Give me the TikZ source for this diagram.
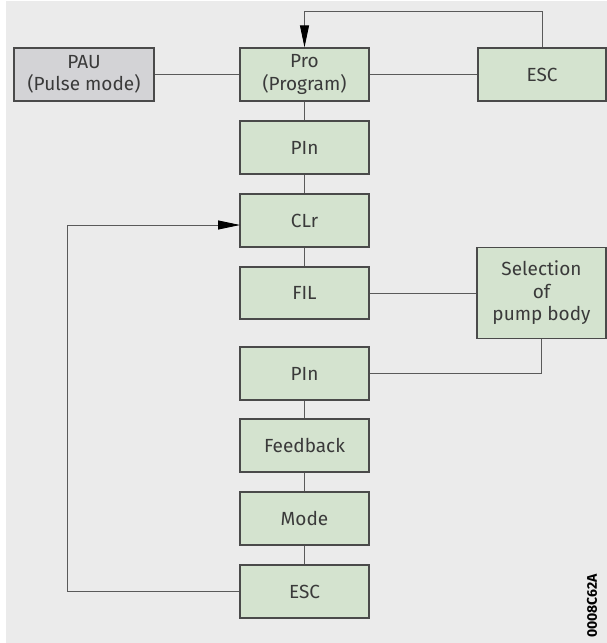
\documentclass[tikz,border=0pt]{standalone}
\usepackage{fontspec}
\setmainfont{Fira Sans}
\usetikzlibrary{arrows.meta}
\definecolor{bgc}{HTML}{EBEBEB}
\definecolor{boxg}{HTML}{D4E3CF}
\definecolor{boxgr}{HTML}{D3D3D6}
\definecolor{edgec}{HTML}{4A4A4A}
\definecolor{linec}{HTML}{5A5A5A}
\definecolor{txtc}{HTML}{3A3A3A}
\tikzset{
  gbox/.style={draw=edgec, line width=1.3pt, fill=boxg, minimum width=129pt, minimum height=53pt, inner sep=0pt, align=center, text=txtc, font=\fontsize{19}{22.5}\selectfont},
  graybox/.style={gbox, fill=boxgr},
  conn/.style={draw=linec, line width=0.9pt},
  arr/.style={conn, -{Triangle[length=22pt,width=9pt,color=black]}}
}
\begin{document}
\begin{tikzpicture}[x=1pt,y=-1pt]
\useasboundingbox (0,0) rectangle (607,643);
\fill[bgc] (6,1) rectangle (607,643);
\node[gbox] (pro) at (304.5,74.5) {Pro\\(Program)};
\node[graybox, minimum width=140pt] (pau) at (84,74.5) {PAU\\(Pulse mode)};
\node[gbox, minimum width=128pt] (esc1) at (542,74.5) {ESC};
\node[gbox] (pin1) at (304.5,147.5) {PIn};
\node[gbox] (clr) at (304.5,220.5) {CLr};
\node[gbox, minimum height=52pt] (fil) at (304.5,293) {FIL};
\node[gbox, minimum height=91pt] (sel) at (541.5,293) {Selection\\of\\pump body};
\node[gbox] (pin2) at (304.5,373.5) {PIn};
\node[gbox] (fb) at (304.5,445.5) {Feedback};
\node[gbox] (mode) at (304.5,518.5) {Mode};
\node[gbox] (esc2) at (304.5,591.5) {ESC};
\coordinate (tl) at (304.5,11);
\coordinate (lb) at (67,591.5);
\coordinate (lt) at (67,225);
\coordinate (ct) at (240,225);
\draw[conn] (pau.east) -- (pro.west);
\draw[conn] (pro.east) -- (esc1.west);
\draw[conn] (esc1.north) |- (tl);
\draw[arr] (tl) -- (pro.north);
\draw[conn] (pro.south) -- (pin1.north);
\draw[conn] (pin1.south) -- (clr.north);
\draw[conn] (clr.south) -- (fil.north);
\draw[conn] (fil.east) -- (sel.west);
\draw[conn] (sel.south) |- (pin2.east);
\draw[conn] (pin2.south) -- (fb.north);
\draw[conn] (fb.south) -- (mode.north);
\draw[conn] (mode.south) -- (esc2.north);
\draw[conn] (esc2.west) -- (lb) -- (lt);
\draw[arr] (lt) -- (ct);
\node[rotate=90, font=\bfseries\fontsize{14}{16}\selectfont, text=black] (code) at (592,606) {0008C62A};
\end{tikzpicture}
\end{document}
